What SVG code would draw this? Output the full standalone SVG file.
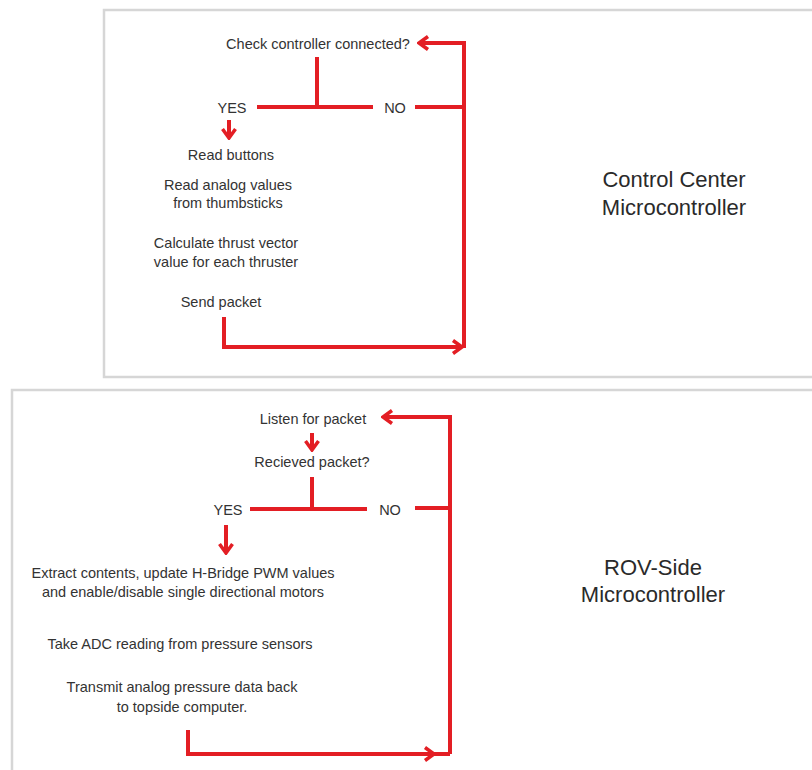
<svg xmlns="http://www.w3.org/2000/svg" width="812" height="770" viewBox="0 0 812 770">
<style>
.box{fill:#fff;stroke:#d6d6d6;stroke-width:2.5}
.t{font-family:"Liberation Sans",Arial,sans-serif;font-size:14.5px;fill:#333;text-anchor:middle}
.big{font-family:"Liberation Sans",Arial,sans-serif;font-size:22px;fill:#2a2a2a;text-anchor:middle}
.c{fill:none;stroke:#e31e24;stroke-width:4;stroke-linecap:butt;stroke-linejoin:miter}
</style>
<defs>
<marker id="ah" viewBox="0 0 14 16" refX="12" refY="8" markerWidth="14" markerHeight="16" markerUnits="userSpaceOnUse" orient="auto">
<path d="M3,1.5 L12,8 L3,14.5" fill="none" stroke="#e31e24" stroke-width="3.5"/>
</marker>
</defs>
<rect width="812" height="770" fill="#fff"/>
<g id="panel-top">
<rect class="box" x="104" y="10" width="720" height="367"/>
<text class="big" x="674" y="187">Control Center</text>
<text class="big" x="674" y="215">Microcontroller</text>
</g>
<g id="panel-bottom">
<rect class="box" x="12" y="390" width="820" height="400"/>
<text class="big" x="653" y="575">ROV-Side</text>
<text class="big" x="653" y="602">Microcontroller</text>
</g>
<g id="n-check"><text class="t" x="318" y="49">Check controller connected?</text></g>
<g id="n-yes1"><text class="t" x="232" y="113">YES</text></g>
<g id="n-no1"><text class="t" x="395" y="113">NO</text></g>
<g id="n-readbtn"><text class="t" x="231" y="160">Read buttons</text></g>
<g id="n-analog"><text class="t" x="228" y="190">Read analog values</text><text class="t" x="228" y="208">from thumbsticks</text></g>
<g id="n-thrust"><text class="t" x="226" y="248">Calculate thrust vector</text><text class="t" x="226" y="267">value for each thruster</text></g>
<g id="n-send"><text class="t" x="221" y="307">Send packet</text></g>
<g id="n-listen"><text class="t" x="313" y="424">Listen for packet</text></g>
<g id="n-recv"><text class="t" x="312" y="467">Recieved packet?</text></g>
<g id="n-yes2"><text class="t" x="228" y="515">YES</text></g>
<g id="n-no2"><text class="t" x="390" y="515">NO</text></g>
<g id="n-extract"><text class="t" x="183" y="578">Extract contents, update H-Bridge PWM values</text><text class="t" x="183" y="597">and enable/disable single directional motors</text></g>
<g id="n-adc"><text class="t" x="180" y="649">Take ADC reading from pressure sensors</text></g>
<g id="n-transmit"><text class="t" x="182" y="692">Transmit analog pressure data back</text><text class="t" x="182" y="712">to topside computer.</text></g>
<g id="connectors">
<path class="c" d="M317,57 V107 M257,107 H373"/>
<path class="c" d="M415,107 H464"/>
<path class="c" d="M464,348 V43 H419" marker-end="url(#ah)"/>
<path class="c" d="M229,120 V138" marker-end="url(#ah)"/>
<path class="c" d="M224,317 V347 H462" marker-end="url(#ah)"/>
<path class="c" d="M312,477 V509 M250,509 H367"/>
<path class="c" d="M415,508 H450"/>
<path class="c" d="M450,754 V417 H383" marker-end="url(#ah)"/>
<path class="c" d="M312,433 V450" marker-end="url(#ah)"/>
<path class="c" d="M226,525 V553" marker-end="url(#ah)"/>
<path class="c" d="M188,730 V754 H450"/>
<path class="c" d="M188,754 H434" marker-end="url(#ah)"/>
</g>
</svg>
